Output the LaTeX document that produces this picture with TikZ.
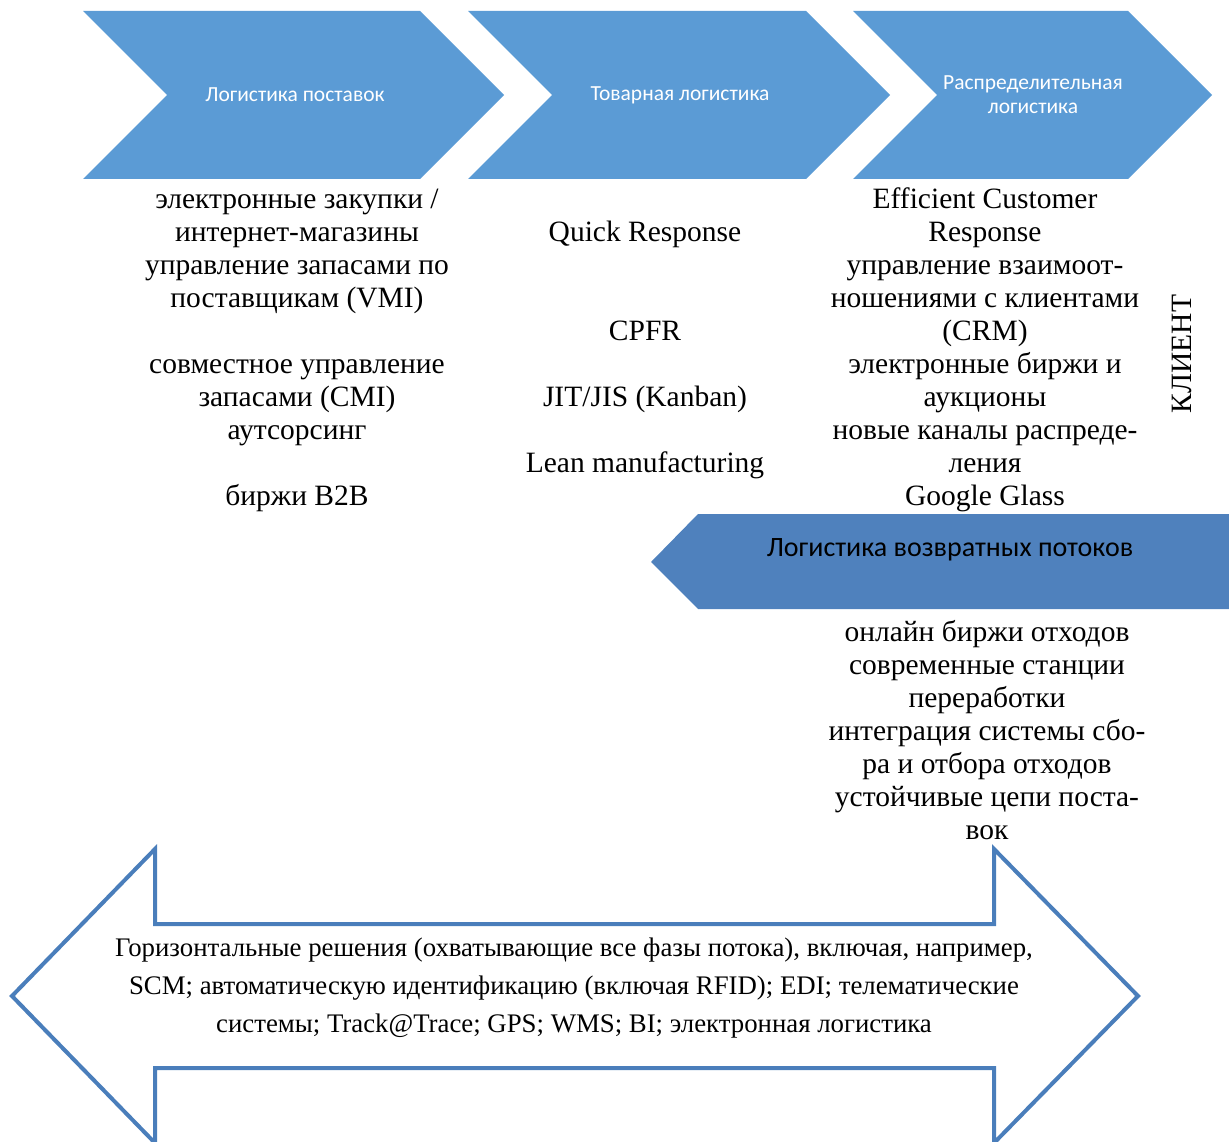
\documentclass[tikz,border=0pt]{standalone}
\usepackage{fontspec}
\setmainfont{Liberation Serif}
\newfontfamily\calib{Carlito}
\definecolor{chev}{HTML}{5B9BD5}
\definecolor{retc}{HTML}{4F81BD}
\definecolor{outl}{HTML}{4A7EBB}
\begin{document}
\begin{tikzpicture}[x=1pt,y=-1pt,
  chevtext/.style={text=white,font=\calib\fontsize{21.5}{24}\selectfont,align=center},
  coltext/.style={font=\fontsize{29.5}{33}\selectfont,align=center,inner sep=0pt},
  bottext/.style={font=\fontsize{26.8}{38}\selectfont,align=center,inner sep=0pt}]
\useasboundingbox (0,0) rectangle (1229,1142);
% chevrons
\fill[chev] (83,11) -- (420,11) -- (504,95) -- (420,179) -- (83,179) -- (167,95) -- cycle;
\fill[chev] (468,11) -- (806,11) -- (890,95) -- (806,179) -- (468,179) -- (552,95) -- cycle;
\fill[chev] (853,11) -- (1128,11) -- (1212,95) -- (1128,179) -- (853,179) -- (937,95) -- cycle;
\node[chevtext] (c1) at (295,95) {Логистика поставок};
\node[chevtext] (c2) at (680,95) {Товарная логистика};
\node[chevtext] (c3) at (1033,95) {Распределительная\\логистика};
% return arrow
\fill[retc] (651,562) -- (698,514) -- (1229,514) -- (1229,609) -- (698,609) -- cycle;
\node[font=\calib\fontsize{28}{32}\selectfont] (r) at (950,550) {Логистика возвратных потоков};
% columns
\node[coltext] (col1) at (297,350) {электронные закупки /\\интернет-магазины\\управление запасами по\\поставщикам (VMI)\\\strut\\совместное управление\\запасами (CMI)\\аутсорсинг\\\strut\\биржи B2B};
\node[coltext] (col2) at (645,350) {Quick Response\\\strut\\\strut\\CPFR\\\strut\\JIT/JIS (Kanban)\\\strut\\Lean manufacturing};
\node[coltext] (col3) at (985,350) {Efficient Customer\\Response\\управление взаимоот-\\ношениями с клиентами\\(CRM)\\электронные биржи и\\аукционы\\новые каналы распреде-\\ления\\Google Glass};
\node[coltext,rotate=90] (kl) at (1182,354) {КЛИЕНТ};
\node[coltext] (col4) at (987,730) {онлайн биржи отходов\\современные станции\\переработки\\интеграция системы сбо-\\ра и отбора отходов\\устойчивые цепи поста-\\вок};
% double arrow
\draw[outl,line width=4pt,line join=miter] (155,924) -- (994,924) -- (994,849) -- (1138,996) -- (994,1143) -- (994,1068) -- (155,1068) -- (155,1143) -- (12,996) -- (155,849) -- cycle;
\node[bottext] (h) at (574,988) {Горизонтальные решения (охватывающие все фазы потока), включая, например,\\SCM; автоматическую идентификацию (включая RFID); EDI; телематические\\системы; Track@Trace; GPS; WMS; BI; электронная логистика};
\end{tikzpicture}
\end{document}
